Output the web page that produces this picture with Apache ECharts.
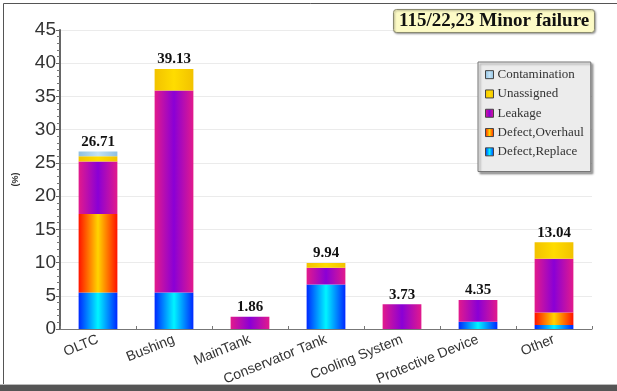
<!DOCTYPE html>
<html>
<head>
<meta charset="utf-8">
<script src="https://cdn.jsdelivr.net/npm/echarts@6/dist/echarts.min.js"></script>
<style>
  html, body { margin: 0; padding: 0; background: #ffffff; }
  #chart { width: 617px; height: 391px; }
</style>
</head>
<body>
<div id="chart"></div>
<script>
// Failure categories (x axis)
const categories = ['OLTC', 'Bushing', 'MainTank', 'Conservator Tank', 'Cooling System', 'Protective Device', 'Other'];

// Share of minor failures (%) per cause, stacked bottom to top
const defectReplace  = [5.50, 5.50, 0, 6.70, 0, 1.10, 0.62];
const defectOverhaul = [11.80, 0, 0, 0, 0, 0, 1.86];
const leakage        = [7.90, 30.38, 1.86, 2.50, 3.73, 3.25, 8.08];
const unassigned     = [0.80, 3.25, 0, 0.74, 0, 0, 2.48];
const contamination  = [0.71, 0, 0, 0, 0, 0, 0];

// Stack totals shown above each bar
const totals = [26.71, 39.13, 1.86, 9.94, 3.73, 4.35, 13.04];

// Y axis ticks
const yTicks = [0, 5, 10, 15, 20, 25, 30, 35, 40, 45];

const chartTitle = '115/22,23 Minor failure';

function hGrad(edge, mid) {
  return new echarts.graphic.LinearGradient(0, 0, 1, 0, [
    { offset: 0, color: edge },
    { offset: 0.5, color: mid },
    { offset: 1, color: edge }
  ]);
}

const chart = echarts.init(document.getElementById('chart'), null, { renderer: 'canvas' });

const serif = 'Liberation Serif';
const sans = 'Liberation Sans';

function stackSeries(name, data, color) {
  return {
    name: name,
    type: 'bar',
    stack: 'total',
    barWidth: '51%',
    data: data,
    itemStyle: { color: color },
    emphasis: { disabled: true }
  };
}

const option = {
  animation: false,
  backgroundColor: '#ffffff',
  title: {
    text: chartTitle,
    left: 393,
    top: 9,
    padding: [3, 6, 2, 6],
    backgroundColor: '#fdfbc6',
    borderColor: '#8a8a70',
    borderWidth: 1,
    borderRadius: 3,
    shadowColor: 'rgba(0,0,0,0.35)',
    shadowBlur: 2,
    shadowOffsetX: 1,
    shadowOffsetY: 1,
    textStyle: { fontFamily: serif, fontWeight: 'bold', fontSize: 19, color: '#111' }
  },
  legend: {
    orient: 'vertical',
    left: 478,
    top: 62,
    padding: [5, 7, 12, 7],
    itemGap: 4,
    itemWidth: 8,
    itemHeight: 8,
    icon: 'rect',
    backgroundColor: '#ececec',
    borderColor: '#777777',
    borderWidth: 1,
    shadowColor: 'rgba(0,0,0,0.35)',
    shadowBlur: 2,
    shadowOffsetX: 2,
    shadowOffsetY: 2,
    itemStyle: { borderColor: '#444', borderWidth: 1 },
    textStyle: { fontFamily: serif, fontSize: 13, color: '#333', lineHeight: 15.3, padding: [0, 0, 0, -1] },
    data: ['Contamination', 'Unassigned', 'Leakage', 'Defect,Overhaul', 'Defect,Replace']
  },
  grid: { left: 60, right: 25, top: 30, bottom: 62, containLabel: false },
  xAxis: {
    type: 'category',
    data: categories,
    axisLine: { lineStyle: { color: '#777', width: 1 } },
    axisTick: { show: true, inside: true, length: 3, lineStyle: { color: '#777' } },
    axisLabel: {
      rotate: 22,
      margin: 10,
      fontFamily: sans,
      fontSize: 14,
      color: '#333'
    }
  },
  yAxis: {
    type: 'value',
    min: yTicks[0],
    max: yTicks[yTicks.length - 1],
    interval: 5,
    name: '(%)',
    nameLocation: 'middle',
    nameGap: 40,
    nameRotate: 90,
    nameTextStyle: { fontFamily: sans, fontSize: 9, fontWeight: 'bold', color: '#333' },
    axisLine: { show: true, lineStyle: { color: '#666', width: 2 } },
    axisTick: { show: true, length: 4, lineStyle: { color: '#666' } },
    minorTick: { show: true, splitNumber: 5, length: 3, lineStyle: { color: '#777' } },
    axisLabel: { fontFamily: sans, fontSize: 19, color: '#333', margin: 4 },
    splitLine: { show: true, lineStyle: { color: '#ebebeb', width: 1 } }
  },
  series: [
    stackSeries('Defect,Replace', defectReplace, hGrad('#0028ff', '#00f4ff')),
    stackSeries('Defect,Overhaul', defectOverhaul, hGrad('#ff1200', '#ffd400')),
    stackSeries('Leakage', leakage, hGrad('#e21a8c', '#8a00d6')),
    stackSeries('Unassigned', unassigned, hGrad('#f2c200', '#ffdc00')),
    stackSeries('Contamination', contamination, hGrad('#8ebfe0', '#c2e2f6')),
    {
      name: 'total',
      type: 'bar',
      stack: 'total',
      barWidth: '51%',
      data: categories.map(() => 0),
      itemStyle: { color: 'rgba(0,0,0,0)' },
      label: {
        show: true,
        position: 'top',
        distance: 2,
        formatter: (p) => totals[p.dataIndex].toFixed(2),
        fontFamily: serif,
        fontWeight: 'bold',
        fontSize: 15,
        color: '#111'
      },
      emphasis: { disabled: true }
    }
  ],
  graphic: [
    { type: 'line', shape: { x1: 3.5, y1: 3.5, x2: 617, y2: 3.5 }, style: { stroke: '#555', lineWidth: 1 } },
    { type: 'line', shape: { x1: 3.5, y1: 3.5, x2: 3.5, y2: 385 }, style: { stroke: '#555', lineWidth: 1 } },
    { type: 'rect', shape: { x: 0, y: 384, width: 617, height: 1 }, style: { fill: '#bbbbbb' } },
    { type: 'rect', shape: { x: 0, y: 385, width: 617, height: 6 }, style: { fill: '#555555' } }
  ]
};

chart.setOption(option);
</script>
</body>
</html>
